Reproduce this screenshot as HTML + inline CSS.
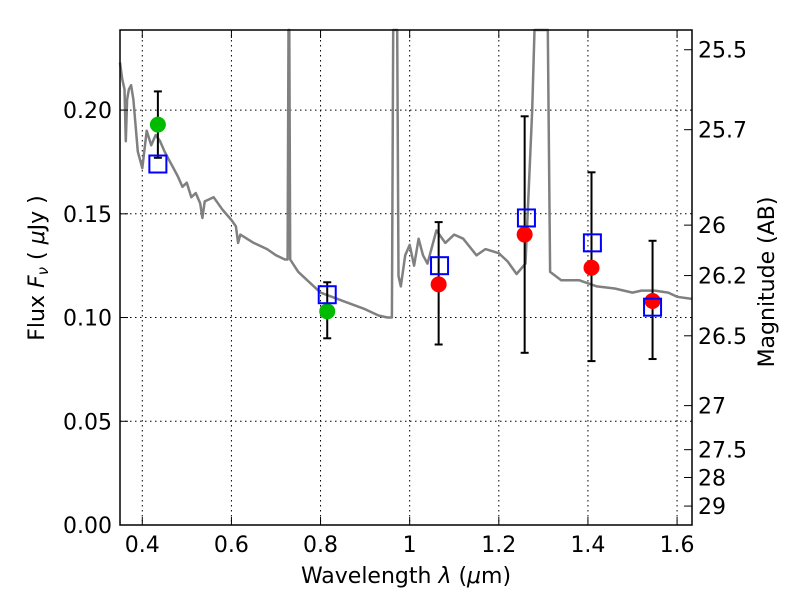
<!DOCTYPE html>
<html><head><meta charset="utf-8"><style>
html,body{margin:0;padding:0;background:#fff;}
svg{display:block;font-family:"DejaVu Sans","Liberation Sans",sans-serif;}
</style></head><body>
<svg id="chart" width="800" height="600">
<rect width="800" height="600" fill="#fff"/>
<g id="grid"></g>
<g id="spec"></g>
<g id="pts"></g>
<rect x="120" y="30" width="572" height="495" fill="none" stroke="#000" stroke-width="1.5"/>
<g id="axes"></g>
<text x="406" y="583" font-size="22" text-anchor="middle">Wavelength  <tspan font-style="italic">λ</tspan> (<tspan font-style="italic">μ</tspan>m)</text>
<text transform="translate(44,268) rotate(-90)" font-size="22" text-anchor="middle">Flux  <tspan font-style="italic">F<tspan font-size="15" dy="4">ν</tspan></tspan><tspan dy="-4">  ( </tspan><tspan font-style="italic">μ</tspan>Jy )</text>
<text transform="translate(774,282) rotate(-90)" font-size="22" text-anchor="middle">Magnitude (AB)</text>
</svg>
<script>
const specWave=[0.35,0.355,0.36,0.363,0.366,0.37,0.375,0.38,0.39,0.40,0.41,0.42,0.43,0.44,0.45,0.46,0.47,0.48,0.49,0.50,0.51,0.52,0.53,0.535,0.54,0.56,0.58,0.60,0.61,0.615,0.62,0.65,0.68,0.70,0.72,0.726,0.728,0.730,0.732,0.75,0.78,0.80,0.85,0.90,0.93,0.95,0.96,0.963,0.965,0.970,0.972,0.975,0.98,0.99,1.0,1.01,1.02,1.03,1.04,1.06,1.08,1.10,1.12,1.15,1.17,1.20,1.22,1.24,1.26,1.275,1.28,1.31,1.315,1.34,1.38,1.42,1.46,1.50,1.52,1.55,1.58,1.60,1.633];
const specFlux=[0.223,0.215,0.21,0.185,0.205,0.21,0.212,0.205,0.18,0.172,0.19,0.183,0.188,0.185,0.18,0.176,0.172,0.168,0.163,0.165,0.158,0.16,0.155,0.148,0.156,0.158,0.152,0.147,0.144,0.136,0.14,0.136,0.133,0.13,0.128,0.128,0.239,0.239,0.128,0.122,0.116,0.112,0.108,0.104,0.101,0.1,0.1,0.239,0.239,0.239,0.239,0.12,0.115,0.13,0.135,0.125,0.138,0.13,0.126,0.142,0.136,0.14,0.138,0.13,0.133,0.131,0.127,0.121,0.126,0.2,0.239,0.239,0.122,0.118,0.118,0.115,0.114,0.112,0.113,0.113,0.112,0.11,0.109];
const greenWave=[0.435,0.815];
const greenFlux=[0.193,0.103];
const redWave=[1.065,1.258,1.408,1.545];
const redFlux=[0.116,0.140,0.124,0.108];
const errWave=[0.435,0.815,1.065,1.258,1.408,1.545];
const errLow=[0.177,0.090,0.087,0.083,0.079,0.080];
const errHigh=[0.209,0.117,0.146,0.197,0.170,0.137];
const boxWave=[0.435,0.815,1.067,1.262,1.41,1.545];
const boxFlux=[0.174,0.111,0.125,0.148,0.136,0.105];
const xTicks=[0.4,0.6,0.8,1.0,1.2,1.4,1.6];
const xTickLabels=["0.4","0.6","0.8","1","1.2","1.4","1.6"];
const yTicks=[0,0.05,0.10,0.15,0.20];
const yTickLabels=["0.00","0.05","0.10","0.15","0.20"];
const magTicks=[25.5,25.7,26,26.2,26.5,27,27.5,28,29];
const magLabels=["25.5","25.7","26","26.2","26.5","27","27.5","28","29"];

const X0=120,X1=692,Y0=525,Y1=30,xmin=0.35,xmax=1.6335,ymin=0,ymax=0.2386;
const sx=v=>X0+(v-xmin)/(xmax-xmin)*(X1-X0);
const sy=v=>Y0-(v-ymin)/(ymax-ymin)*(Y0-Y1);
const syc=v=>Math.max(Y1,Math.min(Y0,sy(v)));
const NS="http://www.w3.org/2000/svg";
function mk(t,a,p){const e=document.createElementNS(NS,t);for(const k in a)e.setAttribute(k,a[k]);p.appendChild(e);return e;}
const grid=document.getElementById('grid'),axes=document.getElementById('axes'),spec=document.getElementById('spec'),pts=document.getElementById('pts');
xTicks.forEach((v,i)=>{const x=sx(v);
 let g=mk('line',{x1:x,x2:x,y1:Y1,y2:Y0,stroke:'#000','stroke-dasharray':'1.5,3.5','stroke-width':1},grid);
 
 mk('line',{x1:x,x2:x,y1:Y0,y2:Y0-8,stroke:'#000'},axes);mk('line',{x1:x,x2:x,y1:Y1,y2:Y1+8,stroke:'#000'},axes);
 let t=mk('text',{x:x,y:Y0+27,'font-size':22,'text-anchor':'middle'},axes);t.textContent=xTickLabels[i];
 });
yTicks.forEach((v,i)=>{const y=sy(v);
 let g=mk('line',{x1:X0,x2:X1,y1:y,y2:y,stroke:'#000','stroke-dasharray':'1.5,3.5','stroke-width':1},grid);
 
 mk('line',{x1:X0,x2:X0+8,y1:y,y2:y,stroke:'#000'},axes);
 let t=mk('text',{x:X0-8,y:y+8,'font-size':22,'text-anchor':'end'},axes);t.textContent=yTickLabels[i];
 });
magTicks.forEach((m,i)=>{const y=sy(Math.pow(10,(23.9-m)/2.5));
 mk('line',{x1:X1,x2:X1-8,y1:y,y2:y,stroke:'#000'},axes);
 let t=mk('text',{x:X1+6,y:y+8,'font-size':22},axes);t.textContent=magLabels[i];
 });
const d=specWave.map((w,i)=>(i?'L':'M')+sx(w).toFixed(1)+','+syc(specFlux[i]).toFixed(1)).join('');
let sp=mk('path',{d:d,fill:'none',stroke:'#808080','stroke-width':2.5,'stroke-linejoin':'round'},spec);

errWave.forEach((w,i)=>{const x=sx(w),a=sy(errLow[i]),b=sy(errHigh[i]);
 const g=mk('g',{stroke:'#000','stroke-width':2},pts);
 
 mk('line',{x1:x,x2:x,y1:a,y2:b},g);mk('line',{x1:x-4,x2:x+4,y1:a,y2:a},g);mk('line',{x1:x-4,x2:x+4,y1:b,y2:b},g);});
greenWave.forEach((w,i)=>{let c=mk('circle',{cx:sx(w),cy:sy(greenFlux[i]),r:8,fill:'#00bb00'},pts);
 });
redWave.forEach((w,i)=>{let c=mk('circle',{cx:sx(w),cy:sy(redFlux[i]),r:8,fill:'#ff0000'},pts);
 });
boxWave.forEach((w,i)=>{let r=mk('rect',{x:sx(w)-8.5,y:sy(boxFlux[i])-8.5,width:17,height:17,fill:'none',stroke:'#0000ff','stroke-width':2},pts);
 });
</script>
</body></html>
